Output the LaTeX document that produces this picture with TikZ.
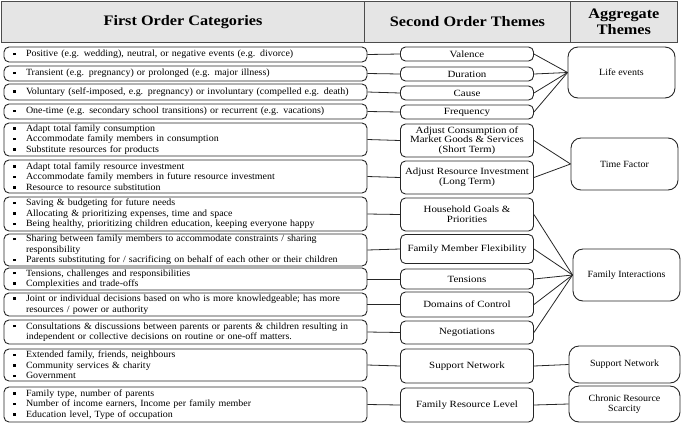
\documentclass[tikz,border=0pt]{standalone}
\usepackage{fontspec}
\setmainfont{Liberation Serif}
\newfontfamily\bodyfont[FakeStretch=1.05]{Liberation Serif}
\newfontfamily\midfont[FakeStretch=1.15]{Liberation Serif}
\newfontfamily\hdrfont[FakeStretch=1.12]{Liberation Serif}
\newcommand\sqb{\makebox[13pt][l]{\rule[1.7pt]{2.5pt}{2.5pt}}}
\newcommand\ind{\makebox[13pt]{}}
\begin{document}
\begin{tikzpicture}[x=1pt,y=-1pt,
  every node/.style={inner sep=0pt},
  hdr/.style={draw=black!70, fill=black!10, line width=0.9pt, font=\hdrfont\fontsize{14.5}{16}\selectfont\bfseries, align=center, anchor=north west},
  lbox/.style={draw=black!85, line width=0.9pt, rounded corners=5pt, text width=345pt, inner xsep=9pt, align=left, font=\bodyfont\fontsize{9.5}{10.5}\selectfont},
  mbox/.style={draw=black!85, line width=0.9pt, rounded corners=5pt, minimum width=133pt, align=center, font=\midfont\fontsize{9.5}{9.8}\selectfont},
  rbox/.style={draw=black!85, line width=0.9pt, rounded corners=10pt, align=center, font=\bodyfont\fontsize{9.5}{10.5}\selectfont},
  link/.style={draw=black!85, line width=0.8pt}
]
\useasboundingbox (0,0) rectangle (685,424);
% header
\node[hdr, minimum width=363pt, minimum height=41pt] (h1) at (1,1) {First Order Categories};
\node[hdr, minimum width=206pt, minimum height=41pt] (h2) at (364,1) {Second Order Themes};
\node[hdr, minimum width=107pt, minimum height=41pt] (h3) at (570,1) {Aggregate\\Themes};
% left boxes
\node[lbox, minimum height=15pt] (l1) at (185.5,54.5) {\sqb Positive (e.g. wedding), neutral, or negative events (e.g. divorce)};
\node[lbox, minimum height=15pt] (l2) at (185.5,73.5) {\sqb Transient (e.g. pregnancy) or prolonged (e.g. major illness)};
\node[lbox, minimum height=16pt] (l3) at (185.5,92) {\sqb Voluntary (self-imposed, e.g. pregnancy) or involuntary (compelled e.g. death)};
\node[lbox, minimum height=15pt] (l4) at (185.5,111.5) {\sqb One-time (e.g. secondary school transitions) or recurrent (e.g. vacations)};
\node[lbox, minimum height=33pt] (l5) at (185.5,139.5) {\sqb Adapt total family consumption\\\sqb Accommodate family members in consumption\\\sqb Substitute resources for products};
\node[lbox, minimum height=33pt] (l6) at (185.5,176.5) {\sqb Adapt total family resource investment\\\sqb Accommodate family members in future resource investment\\\sqb Resource to resource substitution};
\node[lbox, minimum height=34pt] (l7) at (185.5,214) {\sqb Saving \& budgeting for future needs\\\sqb Allocating \& prioritizing expenses, time and space\\\sqb Being healthy, prioritizing children education, keeping everyone happy};
\node[lbox, minimum height=32pt] (l8) at (185.5,250) {\sqb Sharing between family members to accommodate constraints / sharing\\\ind responsibility\\\sqb Parents substituting for / sacrificing on behalf of each other or their children};
\node[lbox, minimum height=22pt] (l9) at (185.5,279) {\sqb Tensions, challenges and responsibilities\\\sqb Complexities and trade-offs};
\node[lbox, minimum height=23pt] (l10) at (185.5,304.5) {\sqb Joint or individual decisions based on who is more knowledgeable; has more\\\ind resources / power or authority};
\node[lbox, minimum height=24pt] (l11) at (185.5,332) {\sqb Consultations \& discussions between parents or parents \& children resulting in\\\ind independent or collective decisions on routine or one-off matters.};
\node[lbox, minimum height=32pt] (l12) at (185.5,365) {\sqb Extended family, friends, neighbours\\\sqb Community services \& charity\\\sqb Government};
\node[lbox, minimum height=35pt] (l13) at (185.5,404.5) {\sqb Family type, number of parents\\\sqb Number of income earners, Income per family member\\\sqb Education level, Type of occupation};
% middle boxes
\node[mbox, minimum height=14pt] (m1) at (467,54) {Valence};
\node[mbox, minimum height=14pt] (m2) at (467,74) {Duration};
\node[mbox, minimum height=14pt] (m3) at (467,93) {Cause};
\node[mbox, minimum height=14pt] (m4) at (467,112) {Frequency};
\node[mbox, minimum height=33pt] (m5) at (467,140.5) {Adjust Consumption of\\Market Goods \& Services\\(Short Term)};
\node[mbox, minimum height=33pt] (m6) at (467,177.5) {Adjust Resource Investment\\(Long Term)};
\node[mbox, minimum height=33pt] (m7) at (467,214.5) {Household Goals \&\\Priorities};
\node[mbox, minimum height=29pt] (m8) at (467,249) {Family Member Flexibility};
\node[mbox, minimum height=20pt] (m9) at (467,279) {Tensions};
\node[mbox, minimum height=25pt] (m10) at (467,304.5) {Domains of Control};
\node[mbox, minimum height=23pt] (m11) at (467,332.5) {Negotiations};
\node[mbox, minimum height=34pt] (m12) at (467,366) {Support Network};
\node[mbox, minimum height=34pt] (m13) at (467,405) {Family Resource Level};
% right boxes
\node[rbox, minimum width=107pt, minimum height=51pt] (r1) at (621.5,72.5) {Life events};
\node[rbox, minimum width=107pt, minimum height=52pt] (r2) at (624.5,164) {Time Factor};
\node[rbox, minimum width=107pt, minimum height=52pt] (r3) at (626.5,275) {Family Interactions};
\node[rbox, minimum width=111pt, minimum height=37pt] (r4) at (624.5,364.5) {Support Network};
\node[rbox, minimum width=111pt, minimum height=36pt] (r5) at (624.5,404) {Chronic Resource\\Scarcity};
% left to middle
\foreach \i in {1,...,13}{\draw[link] (l\i.east) -- (m\i.west);}
% middle to right
\foreach \i in {1,2,3,4}{\draw[link] (m\i.east) -- (r1.west);}
\foreach \i in {5,6}{\draw[link] (m\i.east) -- (r2.west);}
\foreach \i in {7,...,11}{\draw[link] (m\i.east) -- (r3.west);}
\draw[link] (m12.east) -- (r4.west);
\draw[link] (m13.east) -- (r5.west);
\end{tikzpicture}
\end{document}
